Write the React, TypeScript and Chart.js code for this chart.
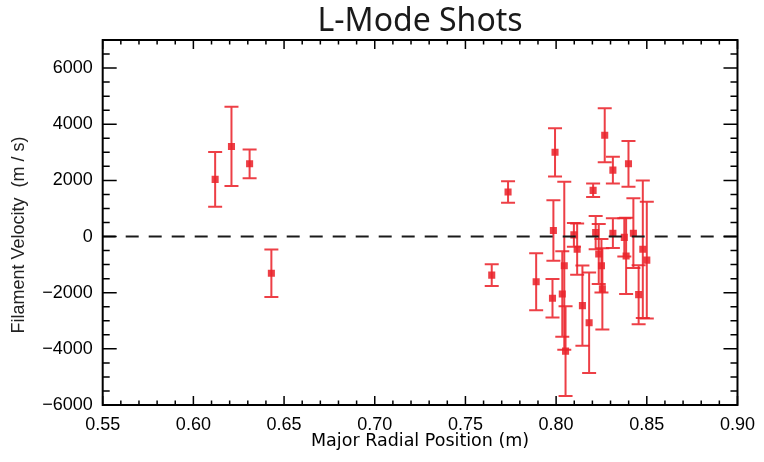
import { useEffect, useRef } from 'react';
import { Chart, registerables } from 'chart.js';

Chart.register(...registerables);

// Data
const radialPosition = [
  0.612, 0.621, 0.631, 0.643,
  0.7645, 0.7735, 0.789, 0.7994, 0.7985, 0.798,
  0.8045, 0.8034, 0.8052,
  0.8098, 0.8116, 0.8145, 0.8182,
  0.8204, 0.8218, 0.8235, 0.825, 0.8255,
  0.8268, 0.8313, 0.8313,
  0.8376, 0.8386, 0.8399,
  0.8426, 0.8455, 0.8478, 0.85,
];
const velocity = [
  2035, 3210, 2590, -1310,
  -1375, 1585, -1610, 3000, 215, -2200,
  -1040, -2045, -4080,
  60, -450, -2460, -3070,
  1645, 140, -620, -1040, -1865,
  3605, 2365, 120,
  -30, -690, 2590,
  120, -2070, -450, -840,
];
const velocityError = [
  975, 1410, 510, 845,
  385, 380, 1015, 860, 1075, 685,
  2990, 1525, 1595,
  420, 910, 1430, 1790,
  240, 590, 1070, 950, 1445,
  960, 480, 530,
  680, 1360, 815,
  1240, 1050, 2450, 2080,
];
const zeroLineX = [0.55, 0.9];
const zeroLineY = [0, 0];

const xTickValues = [0.55, 0.6, 0.65, 0.7, 0.75, 0.8, 0.85, 0.9];
const yTickValues = [-6000, -4000, -2000, 0, 2000, 4000, 6000];

const xMin = 0.55;
const xMax = 0.9;
const xMajorStep = 0.05;
const xMinorStep = 0.01;
const yMin = -6000;
const yMax = 7000;
const yMajorStep = 2000;
const yMinorStep = 500;

const RED = 'rgba(234, 36, 44, 0.88)';

const errorBarPlugin = {
  id: 'errorBars',
  beforeDatasetsDraw(chart: any) {
    const { ctx, scales } = chart;
    const x = scales.x;
    const y = scales.y;
    ctx.save();
    ctx.strokeStyle = RED;
    ctx.lineWidth = 2;
    const cap = 7;
    for (let i = 0; i < radialPosition.length; i++) {
      const px = x.getPixelForValue(radialPosition[i]);
      const top = y.getPixelForValue(velocity[i] + velocityError[i]);
      const bot = y.getPixelForValue(velocity[i] - velocityError[i]);
      ctx.beginPath();
      ctx.moveTo(px, top);
      ctx.lineTo(px, bot);
      ctx.moveTo(px - cap, top);
      ctx.lineTo(px + cap, top);
      ctx.moveTo(px - cap, bot);
      ctx.lineTo(px + cap, bot);
      ctx.stroke();
    }
    ctx.restore();
  },
};

const frameTicksPlugin = {
  id: 'frameTicks',
  afterDraw(chart: any) {
    const { ctx, chartArea: a, scales } = chart;
    const x = scales.x;
    const y = scales.y;
    ctx.save();
    ctx.strokeStyle = '#000';
    ctx.lineWidth = 1.5;
    ctx.beginPath();
    const nx = Math.round((xMax - xMin) / xMinorStep);
    const perMajorX = Math.round(xMajorStep / xMinorStep);
    for (let i = 0; i <= nx; i++) {
      const px = x.getPixelForValue(xMin + i * xMinorStep);
      const len = i % perMajorX === 0 ? 9 : 4.5;
      ctx.moveTo(px, a.bottom);
      ctx.lineTo(px, a.bottom - len);
      ctx.moveTo(px, a.top);
      ctx.lineTo(px, a.top + len);
    }
    const ny = Math.round((yMax - yMin) / yMinorStep);
    for (let i = 0; i <= ny; i++) {
      const v = yMin + i * yMinorStep;
      const py = y.getPixelForValue(v);
      const len = v % yMajorStep === 0 ? 14 : 7;
      ctx.moveTo(a.left, py);
      ctx.lineTo(a.left + len, py);
      ctx.moveTo(a.right, py);
      ctx.lineTo(a.right - len, py);
    }
    ctx.stroke();
    ctx.lineWidth = 2;
    ctx.strokeRect(a.left, a.top, a.right - a.left, a.bottom - a.top);
    ctx.restore();
  },
};

export default function App() {
  const ref = useRef<HTMLCanvasElement | null>(null);

  useEffect(() => {
    document.body.style.margin = '0';
    if (!ref.current) return;
    const chart = new Chart(ref.current, {
      type: 'scatter',
      data: {
        datasets: [
          {
            label: 'Filament velocity',
            data: radialPosition.map((r, i) => ({ x: r, y: velocity[i] })),
            backgroundColor: RED,
            borderColor: RED,
            pointStyle: 'rect',
            pointRadius: 5,
            pointBorderWidth: 0,
            order: 1,
          },
          {
            type: 'line',
            label: 'zero',
            data: zeroLineX.map((v, i) => ({ x: v, y: zeroLineY[i] })),
            borderColor: '#1a1a1a',
            borderWidth: 2,
            borderDash: [13, 10],
            pointRadius: 0,
            fill: false,
            order: 0,
          } as any,
        ],
      },
      options: {
        responsive: false,
        animation: false,
        layout: { padding: { left: 0, right: 21.7, top: 0, bottom: 0 } },
        plugins: {
          legend: { display: false },
          tooltip: { enabled: false },
          title: {
            display: true,
            text: 'L-Mode Shots',
            fullSize: false,
            color: '#1a1a1a',
            font: { family: "'Noto Sans', sans-serif", size: 32, weight: 'normal', lineHeight: 1 },
            padding: { top: 6, bottom: 2 },
          },
        },
        scales: {
          x: {
            type: 'linear',
            min: xMin,
            max: xMax,
            grid: { display: false, drawTicks: false },
            border: { display: false },
            afterBuildTicks: (s: any) => { s.ticks = xTickValues.map((v) => ({ value: v })); },
            ticks: {
              color: '#000',
              padding: 9,
              font: { family: "'Liberation Sans', Arial, sans-serif", size: 18 },
              callback: (v: any) => Number(v).toFixed(2),
            },
            title: {
              display: true,
              text: 'Major Radial Position (m)',
              color: '#000',
              font: { family: "'DejaVu Sans', sans-serif", size: 17.5 },
              padding: { top: 0, bottom: 10 },
            },
            afterFit: (s: any) => { s.height = 57; },
          },
          y: {
            type: 'linear',
            min: yMin,
            max: yMax,
            grid: { display: false, drawTicks: false },
            border: { display: false },
            afterBuildTicks: (s: any) => { s.ticks = yTickValues.map((v) => ({ value: v })); },
            ticks: {
              color: '#000',
              padding: 10,
              font: { family: "'Liberation Sans', Arial, sans-serif", size: 18 },
              callback: (v: any) => (Number(v) === 0 ? '0' : String(Number(v)).replace('-', '\u2212')),
            },
            title: {
              display: true,
              text: 'Filament Velocity  (m / s)     ',
              color: '#222',
              font: { family: "'Liberation Sans', Arial, sans-serif", size: 18 },
              padding: { top: 8, bottom: 0 },
            },
            afterFit: (s: any) => { s.width = 102.7; },
          },
        },
      },
      plugins: [errorBarPlugin, frameTicksPlugin],
    });
    return () => chart.destroy();
  }, []);

  return (
    <div style={{ width: 764, height: 462 }}>
      <canvas ref={ref} width={764} height={462} style={{ display: 'block' }} />
    </div>
  );
}
